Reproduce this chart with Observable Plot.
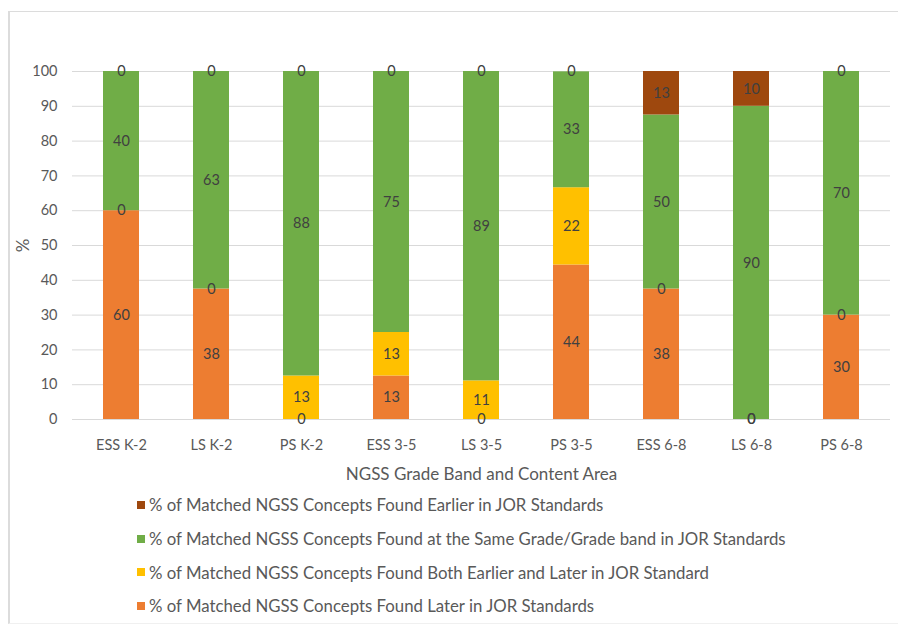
<!DOCTYPE html>
<html>
<head>
<meta charset="utf-8">
<script src="https://cdn.jsdelivr.net/npm/d3@7"></script>
<script src="https://cdn.jsdelivr.net/npm/@observablehq/plot@0.6"></script>
<style>
  html, body { margin: 0; padding: 0; background: #fff; overflow: hidden; }
  #wrap { position: relative; width: 898px; height: 627px; overflow: hidden; background: #fff; font-family: Lato, "Open Sans", sans-serif; }
  #frame { position: absolute; left: 8px; top: 11px; width: 1000px; height: 613px; border-left: 2px solid #dcdcdc; border-top: 1px solid #dcdcdc; border-bottom: 1px solid #f0f0f0; box-sizing: border-box; }
  #chart { position: absolute; left: 0; top: 0; }
  #legend { position: absolute; left: 137px; top: 488px; color: #595959; font-size: 16.8px; }
  .item { display: flex; align-items: center; height: 33.7px; white-space: nowrap; }
  .sw { width: 8px; height: 8px; margin-right: 4px; flex: none; }
</style>
</head>
<body>
<div id="wrap">
  <div id="frame"></div>
  <div id="chart"></div>
  <div id="legend"></div>
</div>
<script>
const categories = ["ESS K-2","LS K-2","PS K-2","ESS 3-5","LS 3-5","PS 3-5","ESS 6-8","LS 6-8","PS 6-8"];
const later   = [60, 37.5, 0, 12.5, 0, 44.4, 37.5, 0, 30];
const both    = [0, 0, 12.5, 12.5, 11.1, 22.2, 0, 0, 0];
const same    = [40, 62.5, 87.5, 75, 88.9, 33.3, 50, 90, 70];
const earlier = [0, 0, 0, 0, 0, 0, 12.5, 10, 0];
const yTicks = [0,10,20,30,40,50,60,70,80,90,100];
const xTitle = "NGSS Grade Band and Content Area";
const yTitle = "%";

const seriesNames = {
  Earlier: "% of Matched NGSS Concepts Found Earlier in JOR Standards",
  Same: "% of Matched NGSS Concepts Found at the Same Grade/Grade band in JOR Standards",
  Both: "% of Matched NGSS Concepts Found Both Earlier and Later in JOR Standard",
  Later: "% of Matched NGSS Concepts Found Later in JOR Standards"
};
const colors = { Later: "#ED7D31", Both: "#FFC000", Same: "#70AD47", Earlier: "#9E480E" };
const stackOrder = ["Later","Both","Same","Earlier"];
const legendOrder = ["Earlier","Same","Both","Later"];

const seriesValues = { Later: later, Both: both, Same: same, Earlier: earlier };
const rows = [];
categories.forEach((c, i) => {
  stackOrder.forEach(s => rows.push({ cat: c, series: s, value: seriesValues[s][i] }));
});

const plot = Plot.plot({
  width: 898,
  height: 490,
  marginLeft: 72,
  marginRight: 8,
  marginTop: 71,
  marginBottom: 71,
  style: { fontFamily: "Lato, 'Open Sans', sans-serif", fontSize: "14px", color: "#595959", background: "transparent" },
  x: { domain: categories, paddingInner: 0.6, paddingOuter: 0.3, label: null },
  y: { domain: [0, 100], label: null },
  color: { domain: stackOrder, range: stackOrder.map(s => colors[s]) },
  marks: [
    Plot.ruleY(yTicks, { stroke: "#d9d9d9", strokeWidth: 1 }),
    Plot.barY(rows, { x: "cat", y: "value", z: "series", fill: "series", order: stackOrder }),
    Plot.text(rows, Plot.stackY({ x: "cat", y: "value", z: "series", order: stackOrder, text: d => String(Math.round(d.value)), fill: "#404040", fontSize: 14.5 })),
    Plot.axisY(yTicks, { tickSize: 0, tickPadding: 15, fontSize: 14.5, label: yTitle, labelAnchor: "center", labelArrow: "none", labelOffset: 56 }),
    Plot.axisX({ tickSize: 0, tickPadding: 20, fontSize: 14.5, label: xTitle, labelAnchor: "center", labelArrow: "none", labelOffset: 60 })
  ]
});
plot.querySelectorAll("text").forEach(t => {
  if (t.textContent === xTitle || t.textContent === yTitle) {
    t.setAttribute("font-size", "17px");
    t.style.fontSize = "17px";
  }
});
document.getElementById("chart").appendChild(plot);

const legend = document.getElementById("legend");
legendOrder.forEach(s => {
  const item = document.createElement("div");
  item.className = "item";
  const sw = document.createElement("span");
  sw.className = "sw";
  sw.style.background = colors[s];
  const tx = document.createElement("span");
  tx.textContent = seriesNames[s];
  item.appendChild(sw);
  item.appendChild(tx);
  legend.appendChild(item);
});
</script>
</body>
</html>
